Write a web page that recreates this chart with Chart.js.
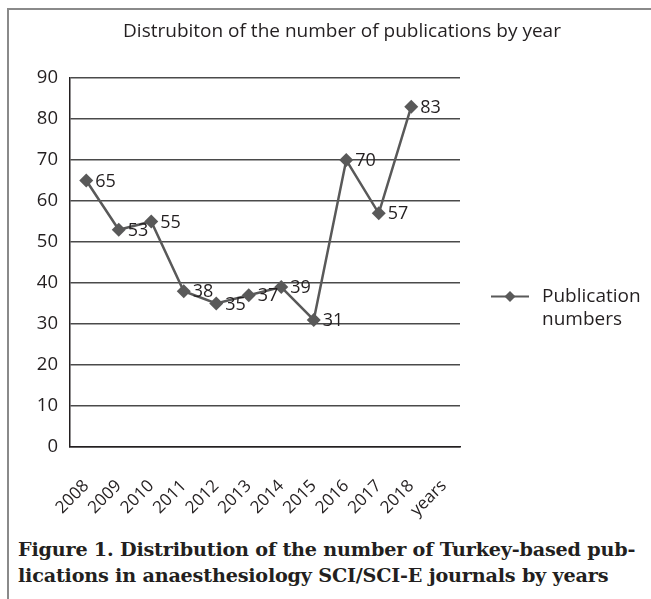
<!DOCTYPE html>
<html>
<head>
<meta charset="utf-8">
<script src="https://cdn.jsdelivr.net/npm/chart.js@4"></script>
<style>
  html, body { margin: 0; padding: 0; background: #fff; }
  #wrap { position: relative; width: 651px; height: 599px; overflow: hidden; }
  #frame { position: absolute; left: 7px; top: 8px; width: 660px; height: 620px;
           border-left: 2px solid #8a8a8a; border-top: 2px solid #8a8a8a; }
  #chartBox { position: absolute; left: 0; top: 0; width: 651px; height: 530px; }
  #caption { position: absolute; left: 18px; top: 537px; font-family: "DejaVu Serif", serif;
             font-weight: bold; font-size: 19.2px; line-height: 26px; color: #231f20; white-space: nowrap;
             letter-spacing: -0.2px; }
</style>
</head>
<body>
<div id="wrap">
  <div id="frame"></div>
  <div id="chartBox"><canvas id="pubChart" width="651" height="530"></canvas></div>
  <div id="caption">Figure 1. Distribution of the number of Turkey-based pub-<br>lications in anaesthesiology SCI/SCI-E journals by years</div>
</div>
<script>
// データ
const years = ['2008', '2009', '2010', '2011', '2012', '2013', '2014', '2015', '2016', '2017', '2018', 'years'];
const publications = [65, 53, 55, 38, 35, 37, 39, 31, 70, 57, 83, null];
const yTicks = [0, 10, 20, 30, 40, 50, 60, 70, 80, 90];
const chartTitle = 'Distrubiton of the number of publications by year';
const seriesName = 'Publication numbers';

const FONT = '"Open Sans", "Noto Sans", sans-serif';
const LINE = '#595959';

// タイトル・凡例・データラベルを描くプラグイン
const decorPlugin = {
    id: 'decor',
    afterDatasetsDraw: (chart) => {
        const { ctx } = chart;
        const meta = chart.getDatasetMeta(0);
        ctx.save();
        ctx.font = '18px ' + FONT;
        ctx.fillStyle = '#231f20';
        ctx.textAlign = 'left';
        ctx.textBaseline = 'middle';
        meta.data.forEach((pt, i) => {
            const v = publications[(i)];
            if (v === null) return;
            ctx.fillText(String(v), pt.x + 9, pt.y + 1);
        });
        ctx.restore();
    },
    afterDraw: (chart) => {
        const { ctx, chartArea: { top, right } } = chart;
        ctx.save();
        // タイトル
        ctx.font = '19px ' + FONT;
        ctx.fillStyle = '#231f20';
        ctx.textAlign = 'center';
        ctx.textBaseline = 'middle';
        ctx.fillText(chartTitle, 342, 32);

        // 凡例
        const ly = (top + chart.chartArea.bottom) / 2 + 34;
        ctx.strokeStyle = LINE;
        ctx.lineWidth = 2;
        ctx.beginPath();
        ctx.moveTo(right + 31, ly);
        ctx.lineTo(right + 69, ly);
        ctx.stroke();
        ctx.fillStyle = LINE;
        ctx.beginPath();
        const cx = right + 50, r = 5.5;
        ctx.moveTo(cx, ly - r);
        ctx.lineTo(cx + r, ly);
        ctx.lineTo(cx, ly + r);
        ctx.lineTo(cx - r, ly);
        ctx.closePath();
        ctx.fill();
        ctx.fillStyle = '#231f20';
        ctx.textAlign = 'left';
        const words = seriesName.split(' ');
        ctx.font = '19px ' + FONT;
        ctx.fillText(words[0], right + 82, ly);
        ctx.fillText(words[1], right + 82, ly + 23);
        ctx.restore();
    }
};

const ctx = document.getElementById('pubChart').getContext('2d');

new Chart(ctx, {
    type: 'line',
    data: {
        labels: years,
        datasets: [{
            label: seriesName,
            data: publications,
            borderColor: LINE,
            backgroundColor: LINE,
            borderWidth: 2.5,
            pointStyle: 'rectRot',
            pointRadius: 7,
            pointBackgroundColor: LINE,
            pointBorderColor: LINE,
            pointBorderWidth: 0,
            tension: 0,
            fill: false
        }]
    },
    options: {
        responsive: false,
        animation: false,
        layout: { padding: { top: 78, right: 191, bottom: 0, left: 0 } },
        plugins: {
            legend: { display: false },
            title: { display: false },
            tooltip: { enabled: false }
        },
        scales: {
            x: {
                offset: true,
                grid: { display: false, drawTicks: false },
                border: { display: true, color: '#231f20', width: 1.5 },
                ticks: {
                    color: '#231f20',
                    font: { family: FONT, size: 17 },
                    maxRotation: 45,
                    minRotation: 45,
                    padding: 29,
                    autoSkip: false
                },
                afterFit: (scale) => { scale.height = 83; }
            },
            y: {
                min: 0,
                max: 90,
                afterBuildTicks: (scale) => { scale.ticks = yTicks.map(v => ({ value: v })); },
                grid: { color: '#4a4a4a', lineWidth: 1.5, drawTicks: false },
                border: { display: true, color: '#231f20', width: 1.5 },
                ticks: {
                    color: '#231f20',
                    font: { family: FONT, size: 18.5 },
                    padding: 12
                },
                afterFit: (scale) => { scale.width = 70; }
            }
        }
    },
    plugins: [decorPlugin]
});
</script>
</body>
</html>
